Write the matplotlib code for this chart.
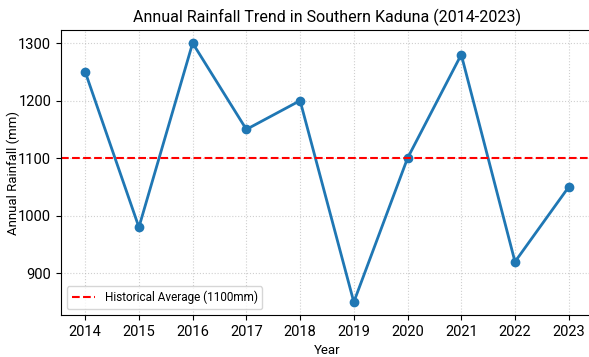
import matplotlib.pyplot as plt

years = [2014, 2015, 2016, 2017, 2018, 2019, 2020, 2021, 2022, 2023]
rainfall = [1250, 980, 1300, 1150, 1200, 850, 1100, 1280, 920, 1050]
hist_avg = 1100

plt.rcParams['font.family'] = ['Roboto', 'DejaVu Sans']

fig = plt.figure(figsize=(5.89, 3.57), dpi=100)
ax = fig.add_axes([0.1036, 0.1176, 0.903, 0.798])

ax.plot(years, rainfall, marker='o', color='#1f77b4', linewidth=2, markersize=6)
ax.axhline(hist_avg, color='red', linestyle='--', linewidth=1.5,
           label='Historical Average (1100mm)')

ax.set_title('Annual Rainfall Trend in Southern Kaduna (2014-2023)', fontsize=11.5)
ax.set_xlabel('Year', fontsize=9.5)
ax.set_ylabel('Annual Rainfall (mm)', fontsize=9.5)
ax.yaxis.set_label_coords(-0.078, 0.5)
ax.set_xticks(years)
ax.tick_params(labelsize=10.5)
ax.grid(True, linestyle=':', alpha=0.6)
ax.legend(loc='lower left', fontsize=8.5)

fig.savefig('out.png', dpi=100)
